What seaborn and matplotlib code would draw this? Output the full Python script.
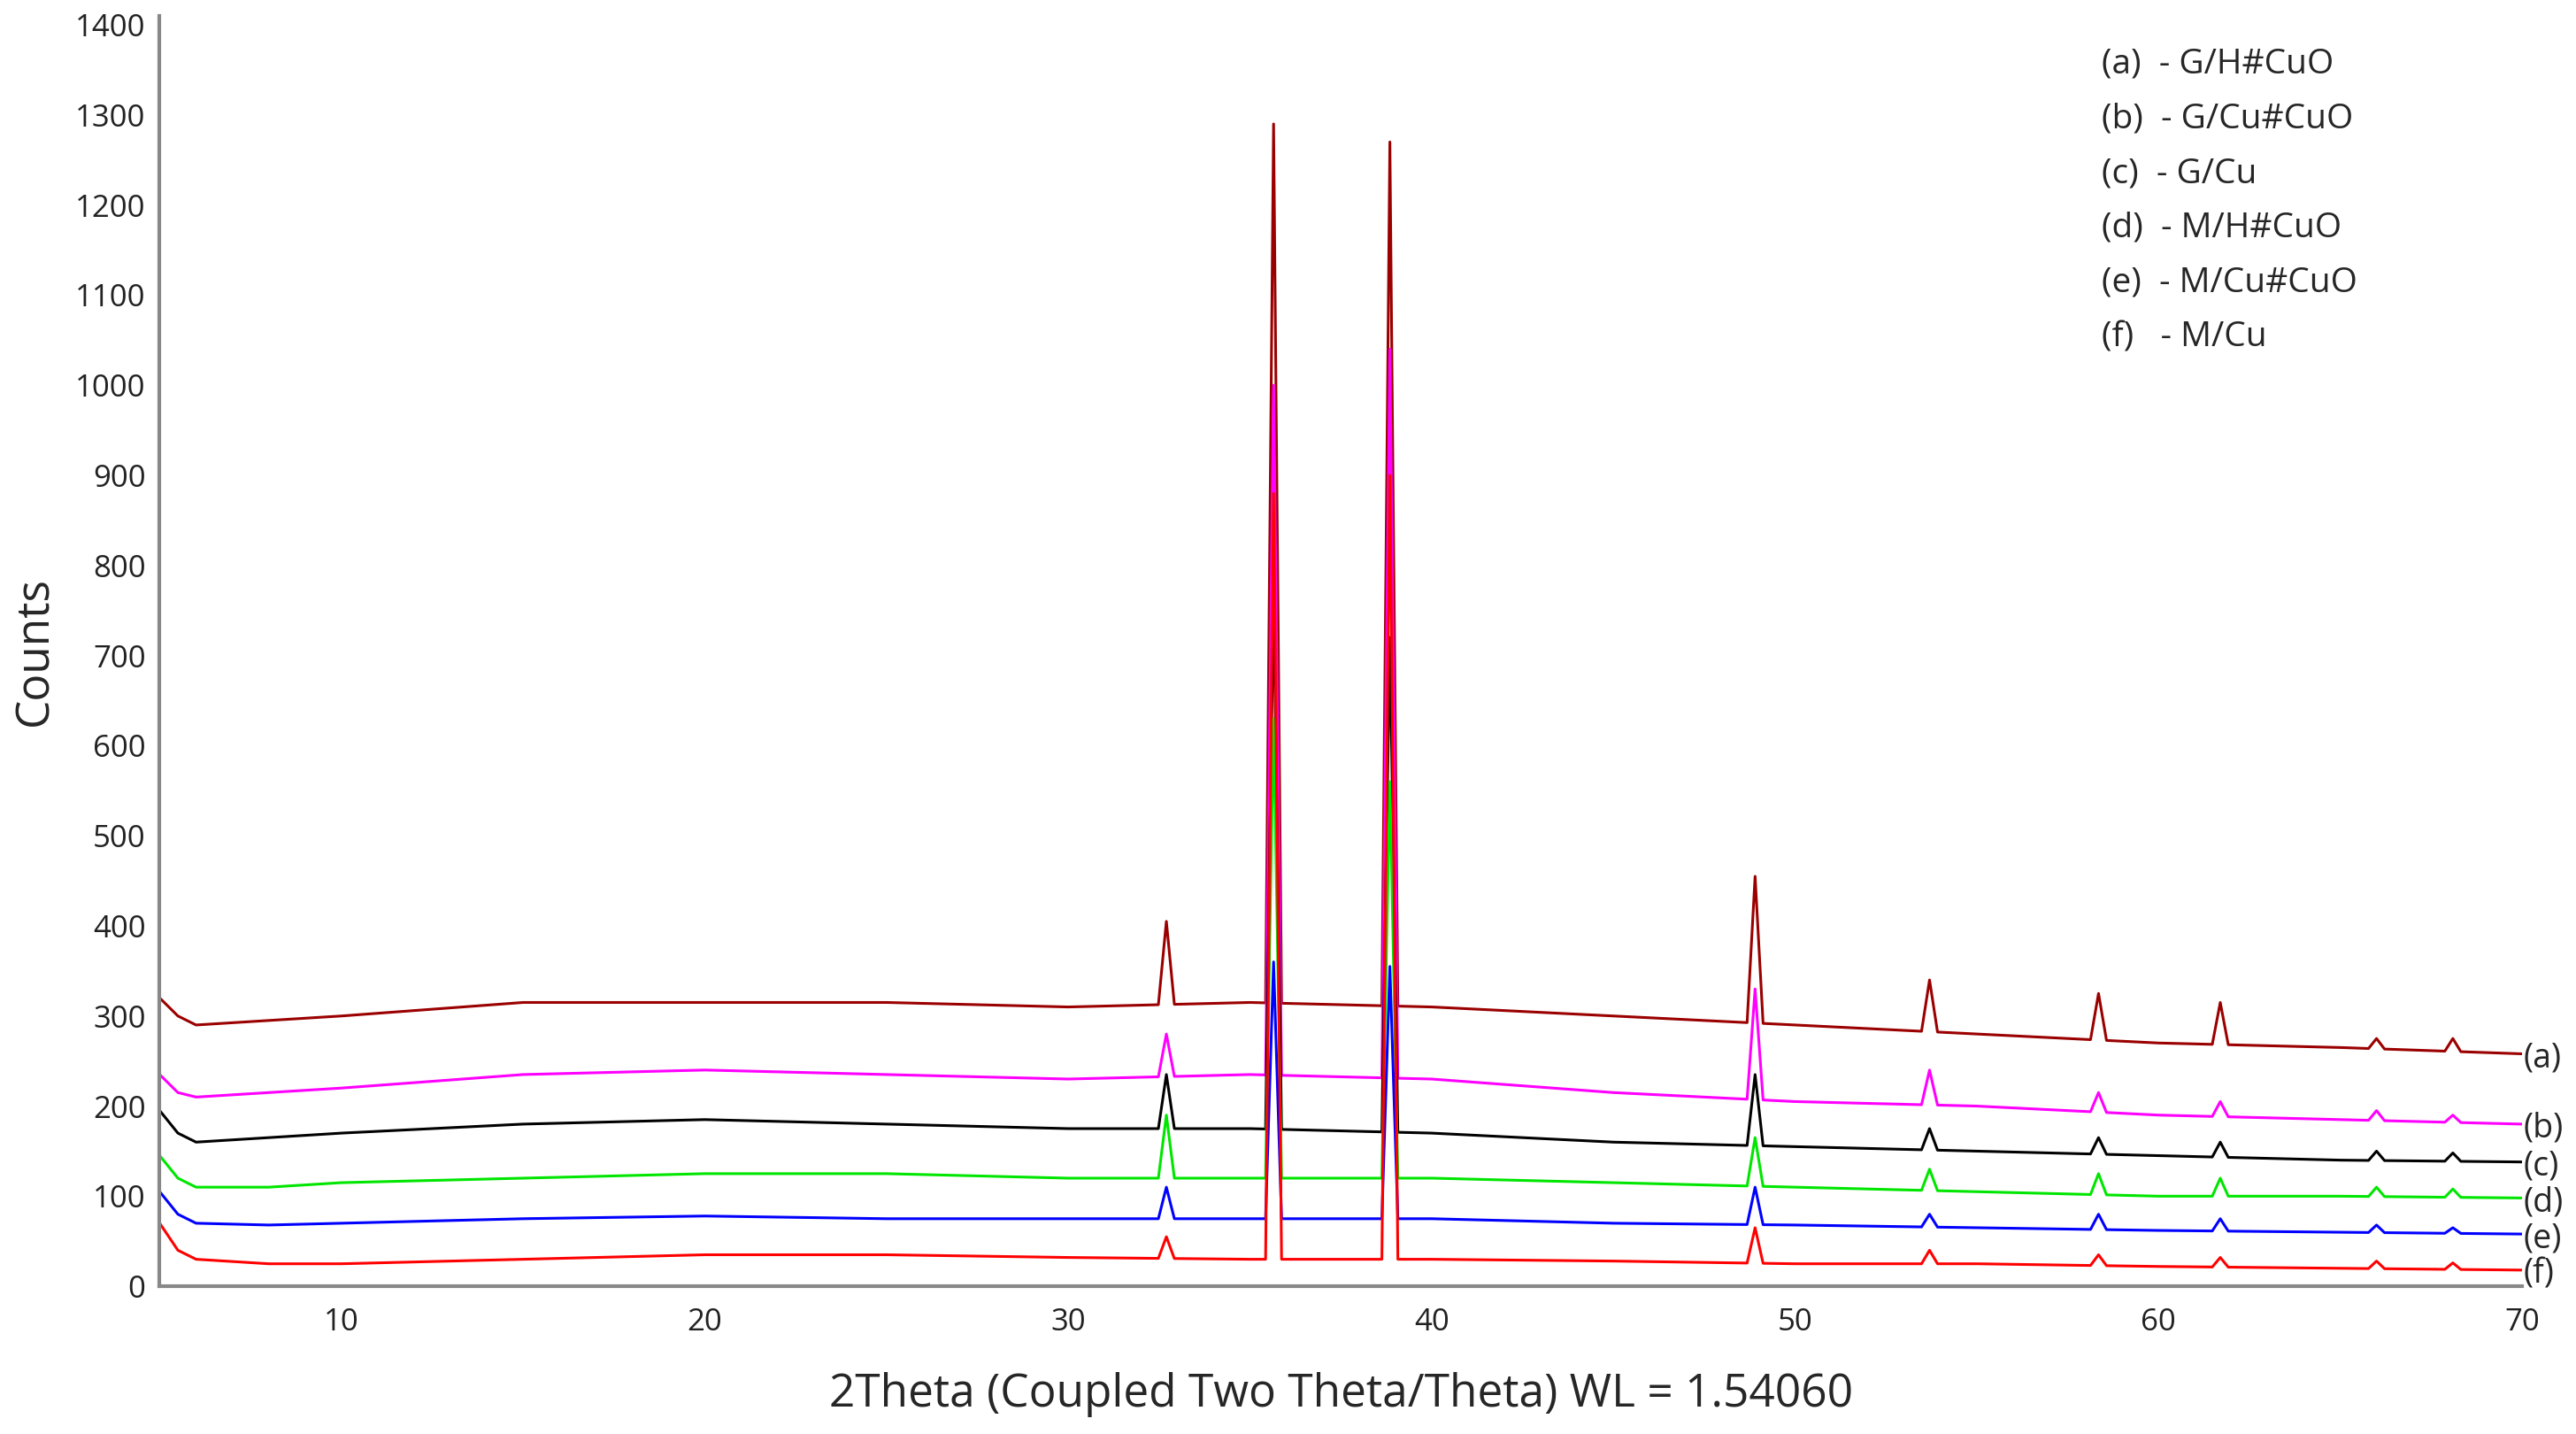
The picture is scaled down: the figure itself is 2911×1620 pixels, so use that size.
import numpy as np
import pandas as pd
import matplotlib.pyplot as plt
import seaborn as sns

sns.set_style("white")
plt.rcParams['font.family'] = ['Open Sans', 'DejaVu Sans']

# baseline anchors
x_base = [5, 5.5, 6, 8, 10, 15, 20, 25, 30, 35, 40, 45, 50, 55, 60, 65, 70]
base = {
    'a': [320, 300, 290, 295, 300, 315, 315, 315, 310, 315, 310, 300, 290, 280, 270, 265, 258],
    'b': [235, 215, 210, 215, 220, 235, 240, 235, 230, 235, 230, 215, 205, 200, 190, 185, 180],
    'c': [195, 170, 160, 165, 170, 180, 185, 180, 175, 175, 170, 160, 155, 150, 145, 140, 138],
    'd': [145, 120, 110, 110, 115, 120, 125, 125, 120, 120, 120, 115, 110, 105, 100, 100, 98],
    'e': [105, 80, 70, 68, 70, 75, 78, 75, 75, 75, 75, 70, 68, 65, 62, 60, 58],
    'f': [70, 40, 30, 25, 25, 30, 35, 35, 32, 30, 30, 28, 25, 25, 22, 20, 18],
}
peak_pos = [32.7, 35.65, 38.85, 48.9, 53.7, 58.35, 61.7, 66.0, 68.1]
peaks = {
    'a': [405, 1290, 1270, 455, 340, 325, 315, 275, 275],
    'b': [280, 1000, 1040, 330, 240, 215, 205, 195, 190],
    'c': [235, 770, 720, 235, 175, 165, 160, 150, 148],
    'd': [190, 630, 560, 165, 130, 125, 120, 110, 108],
    'e': [110, 360, 355, 110, 80, 80, 75, 68, 65],
    'f': [55, 880, 900, 65, 40, 35, 32, 28, 26],
}
names = ['(a)  - G/H#CuO', '(b)  - G/Cu#CuO', '(c)  - G/Cu',
         '(d)  - M/H#CuO', '(e)  - M/Cu#CuO', '(f)   - M/Cu']
colors = {'a': '#9B0000', 'b': '#FF00FF', 'c': '#000000',
          'd': '#00E600', 'e': '#0000FF', 'f': '#FF0000'}

rows = []
for key in base:
    xs = list(x_base)
    for p in peak_pos:
        xs += [p - 0.22, p + 0.22]
    xs = sorted(xs + peak_pos)
    ys = np.interp(xs, x_base, base[key])
    for p, h in zip(peak_pos, peaks[key]):
        ys[xs.index(p)] = h
    rows += [{'theta': x, 'counts': y, 'series': key} for x, y in zip(xs, ys)]
df = pd.DataFrame(rows)

fig = plt.figure(figsize=(29.11, 16.2), dpi=100)
ax = fig.add_axes([0.062, 0.103, 0.917, 0.886])
sns.lineplot(data=df, x='theta', y='counts', hue='series', palette=colors,
             hue_order=list('abcdef'), sort=False, linewidth=2.2, legend=False, ax=ax,
             estimator=None)

ax.set_xlim(5, 70)
ax.set_ylim(0, 1410)
ax.set_xticks(range(10, 71, 10))
ax.set_xticks(range(6, 71, 1), minor=True)
ax.set_yticks(range(0, 1401, 100))
ax.tick_params(axis='both', labelsize=25, colors='#222222')
ax.tick_params(axis='x', which='major', length=14, width=1.5, color='#777777')
ax.tick_params(axis='x', which='minor', length=8, width=1.2, color='#777777')
ax.tick_params(axis='y', length=8, width=1.5, color='#777777')
for s in ['top', 'right']:
    ax.spines[s].set_visible(False)
for s in ['left', 'bottom']:
    ax.spines[s].set_color('#888888')
    ax.spines[s].set_linewidth(3)
ax.set_xlabel('2Theta (Coupled Two Theta/Theta) WL = 1.54060', fontsize=37, labelpad=28)
ax.set_ylabel('Counts', fontsize=37, labelpad=14)

for key in base:
    ax.text(70.05, base[key][-1] - 5, '(' + key + ')', fontsize=27, va='center',
            ha='left', clip_on=False)
for i, n in enumerate(names):
    ax.text(0.822, 0.975 - i * 0.043, n, transform=ax.transAxes, fontsize=28,
            va='top', ha='left')

fig.savefig('out.png')
